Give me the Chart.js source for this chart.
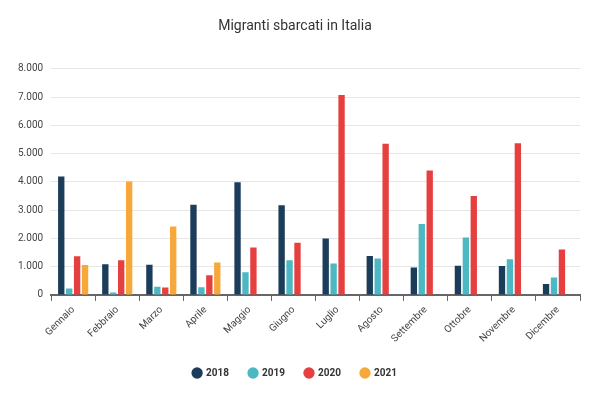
<!DOCTYPE html>
<html>
<head>
<meta charset="utf-8">
<script src="https://cdn.jsdelivr.net/npm/chart.js@4"></script>
<style>
  body { margin: 0; background: #fff; }
  #wrap { width: 600px; height: 400px; }
</style>
</head>
<body>
<div id="wrap"><canvas id="myChart"></canvas></div>
<script>
const months = ["Gennaio", "Febbraio", "Marzo", "Aprile", "Maggio", "Giugno", "Luglio", "Agosto", "Settembre", "Ottobre", "Novembre", "Dicembre"];
const y2018 = [4190, 1090, 1070, 3190, 3990, 3170, 2000, 1380, 970, 1030, 1020, 390];
const y2019 = [230, 90, 290, 270, 800, 1230, 1110, 1290, 2510, 2030, 1260, 620];
const y2020 = [1370, 1230, 260, 700, 1680, 1850, 7070, 5350, 4400, 3500, 5370, 1610];
const y2021 = [1060, 4010, 2420, 1150, null, null, null, null, null, null, null, null];

const ctx = document.getElementById("myChart");
const ds = (label, data, color) => ({
    label: label, data: data, backgroundColor: color, borderColor: color,
    categoryPercentage: 0.72, barPercentage: 0.8, pointStyle: "circle"
});

new Chart(ctx, {
    type: "bar",
    data: {
        labels: months,
        datasets: [
            ds("2018", y2018, "#1b3d5a"),
            ds("2019", y2019, "#4bb8c4"),
            ds("2020", y2020, "#e5403f"),
            ds("2021", y2021, "#f7a83a")
        ]
    },
    options: {
        responsive: true,
        maintainAspectRatio: false,
        animation: false,
        layout: { padding: { left: 10, right: 20, top: 18, bottom: 12 } },
        plugins: {
            title: {
                display: true, text: "Migranti sbarcati in Italia",
                color: "#333", font: { family: "Roboto", size: 14, weight: "normal" },
                padding: { top: 0, bottom: 34 }
            },
            legend: {
                position: "bottom",
                labels: {
                    usePointStyle: true, boxWidth: 8, boxHeight: 8, padding: 20,
                    color: "#333", font: { family: "Roboto", size: 10, weight: "bold" }
                }
            }
        },
        scales: {
            x: {
                grid: { display: true, drawOnChartArea: false, offset: true, tickLength: 6, color: "#666" },
                border: { color: "#666", width: 2 },
                ticks: { maxRotation: 45, minRotation: 45, color: "#444", font: { family: "Roboto", size: 10 } }
            },
            y: {
                min: 0, max: 8000,
                grid: { color: "#e6e6e6", drawTicks: false },
                border: { display: false },
                ticks: {
                    stepSize: 1000, padding: 8, color: "#444",
                    font: { family: "Roboto", size: 10 },
                    callback: v => v.toLocaleString("it-IT").replace(/\u00a0/g, "")
                }
            }
        }
    }
});
</script>
</body>
</html>
